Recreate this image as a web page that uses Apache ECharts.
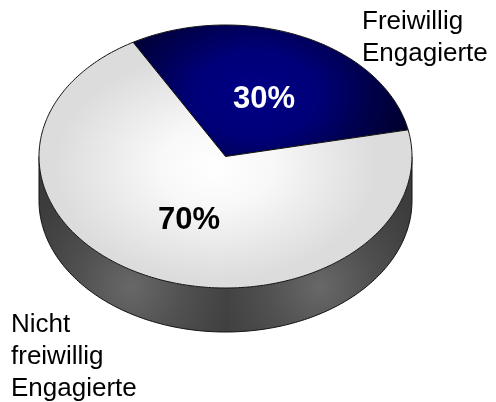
<!DOCTYPE html>
<html>
<head>
<meta charset="utf-8">
<style>html,body{margin:0;padding:0;background:#fff}#main{width:496px;height:402px}</style>
<script src="https://cdn.jsdelivr.net/npm/echarts@6/dist/echarts.min.js"></script>
</head>
<body>
<div id="main"></div>
<script>
var sliceNames = ['Freiwillig\nEngagierte', 'Nicht\nfreiwillig\nEngagierte'];
var sliceValues = [30, 70];
var sliceLabels = ['30%', '70%'];

// Geometrie der Scheibe
var cx = 225.5, cy = 156.5, rx = 186.5, ry = 131.5, depth = 44;
var startDeg = -29.7; // im Uhrzeigersinn von oben
var labelPos = [[264, 99], [189, 220]];
var namePos = [[362, 6], [11, 309]];
var rad = Math.PI / 180;

function ell(a, dy) {
    return [cx + rx * Math.cos(a * rad), cy + ry * Math.sin(a * rad) + (dy || 0)];
}
function arc(a0, a1, dy) {
    var pts = [], n = Math.ceil(Math.abs(a1 - a0));
    for (var i = 0; i <= n; i++) pts.push(ell(a0 + (a1 - a0) * i / n, dy));
    return pts;
}
function radial(x, y, r, stops) {
    return {
        type: 'radial', x: x, y: y, r: r, global: true,
        colorStops: stops.map(function (s) { return { offset: s[0], color: s[1] }; })
    };
}

// Seitenwand, zwei Haelften mit je einem Glanzlicht
function renderSide() {
    var left = arc(180, 89).concat(arc(89, 180, depth));
    var right = arc(90, 0).concat(arc(0, 90, depth));
    var stops = [[0, '#686868'], [0.45, '#505050'], [0.75, '#444444'], [1, '#3c3c3c']];
    return {
        type: 'group',
        children: [
            { type: 'polygon', shape: { points: right }, style: { fill: radial(320, 287, 120, stops) } },
            { type: 'polygon', shape: { points: left }, style: { fill: radial(131, 287, 120, stops) } },
            {
                type: 'polyline',
                shape: { points: arc(180, 0, depth).concat([[cx + rx, cy]]) },
                style: { stroke: '#111', lineWidth: 1, fill: 'none' }
            },
            {
                type: 'line',
                shape: { x1: cx - rx, y1: cy, x2: cx - rx, y2: cy + depth },
                style: { stroke: '#111', lineWidth: 1 }
            }
        ]
    };
}

function renderSlice(params, api) {
    var i = params.dataIndex, before = 0, total = 0;
    sliceValues.forEach(function (v, k) {
        total += v;
        if (k < i) before += v;
    });
    var a0 = startDeg - 90 + before / total * 360;
    var a1 = a0 + api.value(0) / total * 360;
    var k = ry / rx;
    var fill = i === 0
        ? radial(30, -62 / k, 155, [[0, '#000086'], [0.4, '#000078'], [0.7, '#000050'], [1, '#00002e']])
        : radial(-10, 10 / k, 190, [[0, '#ffffff'], [0.3, '#f8f8f8'], [0.65, '#e6e6e6'], [0.85, '#dcdcdc'], [1, '#dcdcdc']]);
    var textFill = i === 0 ? '#fff' : '#000';
    return {
        type: 'group',
        children: [
            {
                type: 'group', x: cx, y: cy, scaleY: k,
                children: [{
                    type: 'sector',
                    shape: { cx: 0, cy: 0, r0: 0, r: rx, startAngle: a0 * rad, endAngle: a1 * rad },
                    style: { fill: fill }
                }]
            },
            {
                type: 'polygon',
                shape: { points: [[cx, cy]].concat(arc(a0, a1)) },
                style: { fill: 'none', stroke: '#111', lineWidth: 1 }
            },
            {
                type: 'text', x: labelPos[i][0], y: labelPos[i][1],
                style: {
                    text: sliceLabels[i], fill: textFill, align: 'center', verticalAlign: 'middle',
                    font: 'bold 31px "Liberation Sans"'
                }
            },
            {
                type: 'text', x: namePos[i][0], y: namePos[i][1],
                style: {
                    text: sliceNames[i], fill: '#000', align: 'left', verticalAlign: 'top',
                    font: '26px "Liberation Sans"', lineHeight: 32
                }
            }
        ]
    };
}

var chart = echarts.init(document.getElementById('main'), null, { renderer: 'canvas' });
chart.setOption({
    animation: false,
    backgroundColor: '#fff',
    series: [
        { type: 'custom', coordinateSystem: 'none', silent: true, data: [[0]], renderItem: renderSide },
        {
            type: 'custom', coordinateSystem: 'none', silent: true,
            data: sliceValues.map(function (v) { return [v]; }),
            renderItem: renderSlice
        }
    ]
});
</script>
</body>
</html>
